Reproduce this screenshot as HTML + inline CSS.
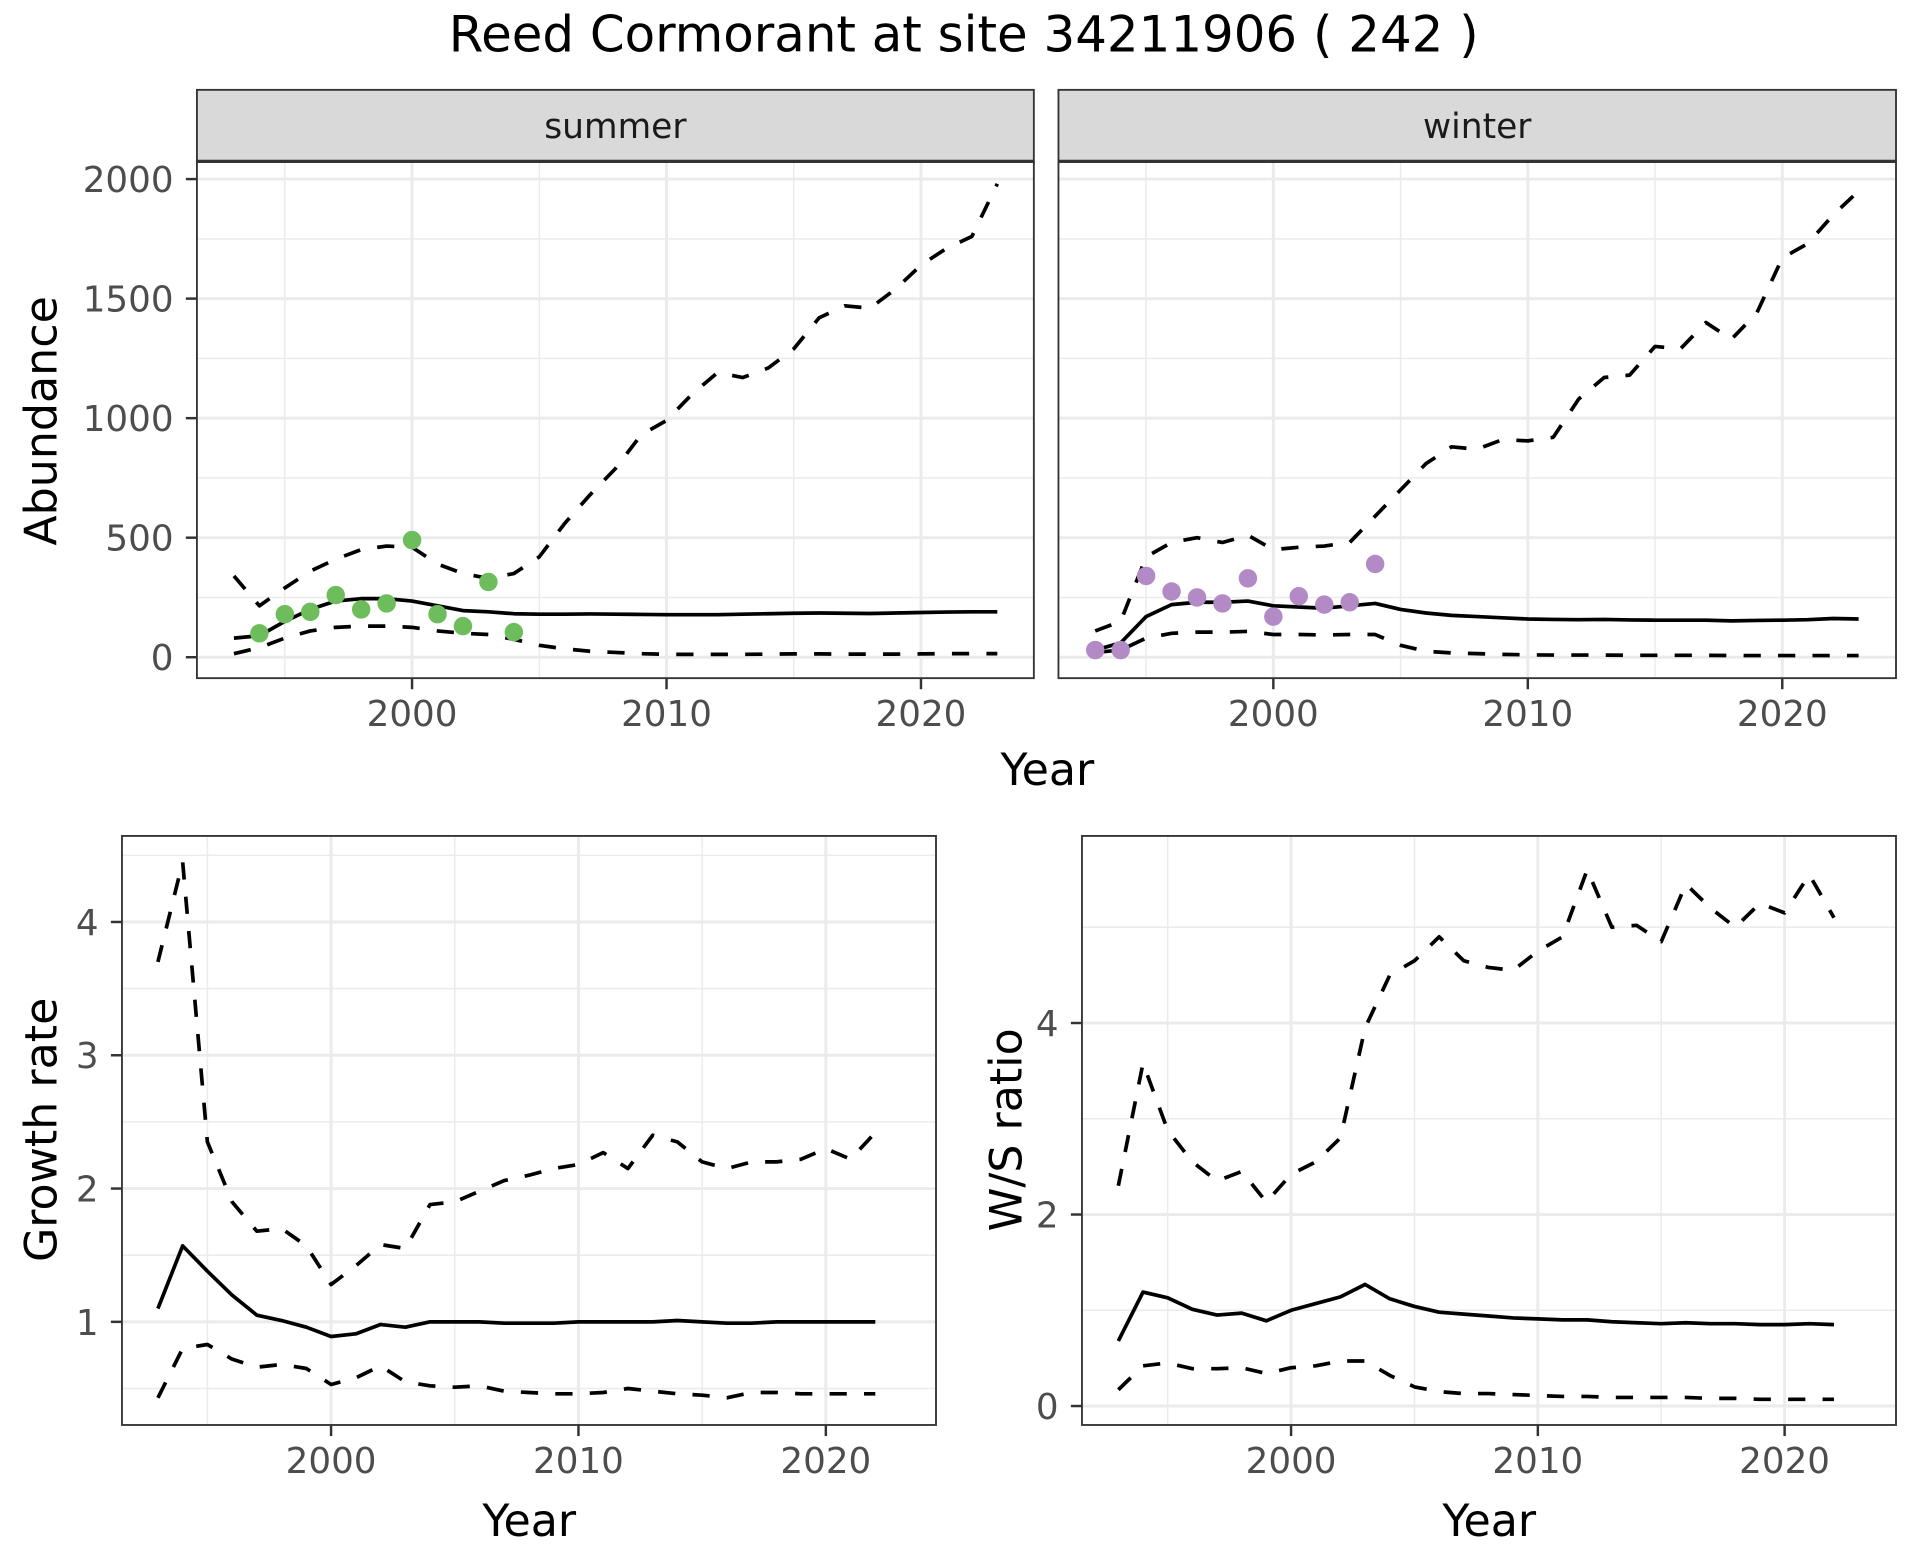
<!DOCTYPE html>
<html><head><meta charset="utf-8"><style>
html,body{margin:0;padding:0;background:#fff;}
svg{display:block;font-family:"DejaVu Sans","Liberation Sans",sans-serif;}
</style></head><body>
<svg id="chart" width="1920" height="1560" viewBox="0 0 1560 1267.5" xmlns="http://www.w3.org/2000/svg">
<rect width="1560" height="1267.5" fill="#fff"/>
<text x="783" y="42" font-size="40.5" text-anchor="middle" fill="#000">Reed Cormorant at site 34211906 ( 242 )</text>
</svg>
<script>
const yearsA = [1993,1994,1995,1996,1997,1998,1999,2000,2001,2002,2003,2004,2005,2006,2007,2008,2009,2010,2011,2012,2013,2014,2015,2016,2017,2018,2019,2020,2021,2022,2023];
const summerMid = [80,90,150,200,235,245,245,235,215,195,190,182,180,180,181,180,179,178,178,178,180,182,184,185,184,183,185,187,189,190,190];
const summerUp = [340,215,290,360,410,450,465,460,390,350,330,350,420,560,680,790,930,990,1100,1190,1170,1210,1290,1420,1470,1460,1540,1640,1710,1760,1980];
const summerLo = [15,40,80,110,125,130,130,125,110,100,95,75,50,35,25,20,15,12,12,12,12,13,14,14,13,13,13,14,15,15,15];
const summerPtYears = [1994,1995,1996,1997,1998,1999,2000,2001,2002,2003,2004];
const summerPts = [100,180,190,260,200,225,490,180,130,315,105];
const winterMid = [30,60,170,220,230,230,235,215,210,205,215,225,200,185,175,170,165,160,158,157,158,156,155,155,155,152,154,155,157,162,160];
const winterUp = [110,150,420,480,500,480,510,450,460,465,480,590,700,810,880,870,910,905,920,1080,1170,1180,1300,1290,1400,1330,1440,1670,1730,1850,1950];
const winterLo = [20,30,80,100,105,105,108,95,95,93,95,95,50,25,18,15,12,10,9,9,9,8,8,8,8,7,7,7,7,7,7];
const winterPtYears = [1993,1994,1995,1996,1997,1998,1999,2000,2001,2002,2003,2004];
const winterPts = [30,30,340,275,250,225,330,170,255,220,230,390];
const yearsB = [1993,1994,1995,1996,1997,1998,1999,2000,2001,2002,2003,2004,2005,2006,2007,2008,2009,2010,2011,2012,2013,2014,2015,2016,2017,2018,2019,2020,2021,2022];
const growthMid = [1.1,1.57,1.38,1.2,1.05,1.01,0.96,0.89,0.91,0.98,0.96,1.0,1.0,1.0,0.99,0.99,0.99,1.0,1.0,1.0,1.0,1.01,1.0,0.99,0.99,1.0,1.0,1.0,1.0,1.0];
const growthUp = [3.7,4.45,2.35,1.9,1.68,1.7,1.57,1.28,1.42,1.58,1.55,1.88,1.9,1.98,2.06,2.1,2.15,2.18,2.27,2.15,2.4,2.35,2.2,2.15,2.2,2.2,2.22,2.3,2.22,2.42];
const growthLo = [0.43,0.8,0.83,0.72,0.66,0.68,0.65,0.53,0.58,0.67,0.55,0.52,0.51,0.52,0.48,0.47,0.46,0.46,0.47,0.5,0.48,0.46,0.45,0.43,0.47,0.47,0.46,0.46,0.46,0.46];
const wsMid = [0.68,1.19,1.13,1.01,0.95,0.97,0.89,1.0,1.07,1.14,1.27,1.12,1.04,0.98,0.96,0.94,0.92,0.91,0.9,0.9,0.88,0.87,0.86,0.87,0.86,0.86,0.85,0.85,0.86,0.85];
const wsUp = [2.3,3.58,2.88,2.55,2.35,2.45,2.13,2.42,2.55,2.8,3.95,4.5,4.65,4.9,4.65,4.58,4.55,4.75,4.9,5.6,5.0,5.02,4.85,5.45,5.2,5.0,5.25,5.15,5.55,5.1];
const wsLo = [0.17,0.42,0.45,0.39,0.39,0.4,0.34,0.4,0.42,0.47,0.47,0.32,0.2,0.15,0.13,0.13,0.12,0.11,0.1,0.1,0.09,0.09,0.09,0.09,0.08,0.08,0.07,0.07,0.07,0.07];
const xTicks = [2000,2010,2020];
const abTicks = [0,500,1000,1500,2000];
const grTicks = [1,2,3,4];
const wsTicks = [0,2,4];

const NS = "http://www.w3.org/2000/svg";
const svg = document.getElementById('chart');
function mk(tag, attrs, parent){
  const e = document.createElementNS(NS, tag);
  for (const k in attrs) e.setAttribute(k, attrs[k]);
  (parent||svg).appendChild(e);
  return e;
}
function panel(o){
  const g = mk('g', {});
  
  
  const sx = v => o.x0 + (v - 2000) * o.xs;
  const sy = v => o.y0 - (v - o.yb) * o.ys;
  mk('rect', {x:o.L, y:o.T, width:o.R-o.L, height:o.B-o.T, fill:'#fff'}, g);
  [1995,2005,2015,1990,2025].forEach(v => { const x = sx(v); if (x > o.L && x < o.R) mk('line',{x1:x,x2:x,y1:o.T,y2:o.B,stroke:'#ebebeb','stroke-width':1.2},g); });
  o.minor.forEach(v => { const y = sy(v); if (y > o.T && y < o.B) mk('line',{x1:o.L,x2:o.R,y1:y,y2:y,stroke:'#ebebeb','stroke-width':1.2},g); });
  xTicks.forEach(v => mk('line',{x1:sx(v),x2:sx(v),y1:o.T,y2:o.B,stroke:'#ebebeb','stroke-width':2.4},g));
  o.ticks.forEach(v => mk('line',{x1:o.L,x2:o.R,y1:sy(v),y2:sy(v),stroke:'#ebebeb','stroke-width':2.4},g));
  const line = (ys, dash, nm) => {
    const p = mk('polyline', {points: o.years.map((yr,i)=>sx(yr)+','+sy(ys[i])).join(' '), fill:'none', stroke:'#000','stroke-width':3,'stroke-dasharray':dash?'14,14':'none','stroke-linejoin':'round'}, g);
    
    
  };
  line(o.up, true, 'upper-bound-line');
  line(o.lo, true, 'lower-bound-line');
  line(o.mid, false, 'estimate-line');
  if (o.pts) o.pts.forEach((v,i) => {
    const c = mk('circle', {cx:sx(o.ptYears[i]), cy:sy(v), r:7.5, fill:o.color}, g);
    
    
  });
  mk('rect', {x:o.L, y:o.T, width:o.R-o.L, height:o.B-o.T, fill:'none', stroke:'#333','stroke-width':1.5}, g);
  xTicks.forEach(v => {
    mk('line',{x1:sx(v),x2:sx(v),y1:o.B,y2:o.B+9,stroke:'#333','stroke-width':2},g);
    const t = mk('text',{x:sx(v),y:o.B+39,'font-size':29,fill:'#4d4d4d','text-anchor':'middle'},g);
    t.textContent = v;
    
    
  });
  if (o.yLabels) o.ticks.forEach(v => {
    mk('line',{x1:o.L-9,x2:o.L,y1:sy(v),y2:sy(v),stroke:'#333','stroke-width':2},g);
    const t = mk('text',{x:o.L-19,y:sy(v)+10.5,'font-size':29,fill:'#4d4d4d','text-anchor':'end'},g);
    t.textContent = v;
    
    
  });
  if (o.strip) {
    mk('rect',{x:o.L,y:73,width:o.R-o.L,height:58.6,fill:'#d9d9d9',stroke:'#333','stroke-width':1.5},g);
    mk('line',{x1:o.L,x2:o.R,y1:131,y2:131,stroke:'#333','stroke-width':2.5},g);
    const t = mk('text',{x:(o.L+o.R)/2,y:112,'font-size':28,fill:'#1a1a1a','text-anchor':'middle'},g);
    t.textContent = o.strip;
    
    
  }
}
panel({name:'summer-panel', L:160,R:840,T:131.6,B:551, x0:334.8, xs:20.675, y0:534, yb:0, ys:0.19425, years:yearsA, mid:summerMid, up:summerUp, lo:summerLo, pts:summerPts, ptYears:summerPtYears, color:'#6dbd5c', ticks:abTicks, minor:[250,750,1250,1750], yLabels:true, strip:'summer'});
panel({name:'winter-panel', L:860,R:1540.5,T:131.6,B:551, x0:1034.6, xs:20.675, y0:534, yb:0, ys:0.19425, years:yearsA, mid:winterMid, up:winterUp, lo:winterLo, pts:winterPts, ptYears:winterPtYears, color:'#b18ac6', ticks:abTicks, minor:[250,750,1250,1750], yLabels:false, strip:'winter'});
panel({name:'growth-rate-panel', L:99.1,R:760.5,T:679.2,B:1157.8, x0:269, xs:20.1, y0:1074, yb:1, ys:108.3, years:yearsB, mid:growthMid, up:growthUp, lo:growthLo, ticks:grTicks, minor:[0.5,1.5,2.5,3.5,4.5], yLabels:true});
panel({name:'ws-ratio-panel', L:879.1,R:1540.5,T:679.2,B:1157.8, x0:1049, xs:20.05, y0:1142.4, yb:0, ys:77.8, years:yearsB, mid:wsMid, up:wsUp, lo:wsLo, ticks:wsTicks, minor:[1,3,5], yLabels:true});
function label(txt, x, y, rot, nm){
  const t = mk('text', {x:x, y:y, 'font-size':36, fill:'#000', 'text-anchor':'middle', transform: rot ? 'rotate(-90 '+x+' '+y+')' : ''});
  t.textContent = txt;
  
  
}
label('Year', 851, 638, false, 'x-axis-title-top');
label('Abundance', 46, 342, true, 'y-axis-title-abundance');
label('Year', 430, 1248, false, 'x-axis-title-growth');
label('Growth rate', 46, 918, true, 'y-axis-title-growth');
label('Year', 1210, 1248, false, 'x-axis-title-ws');
label('W/S ratio', 830, 918, true, 'y-axis-title-ws');
</script>
</body></html>
